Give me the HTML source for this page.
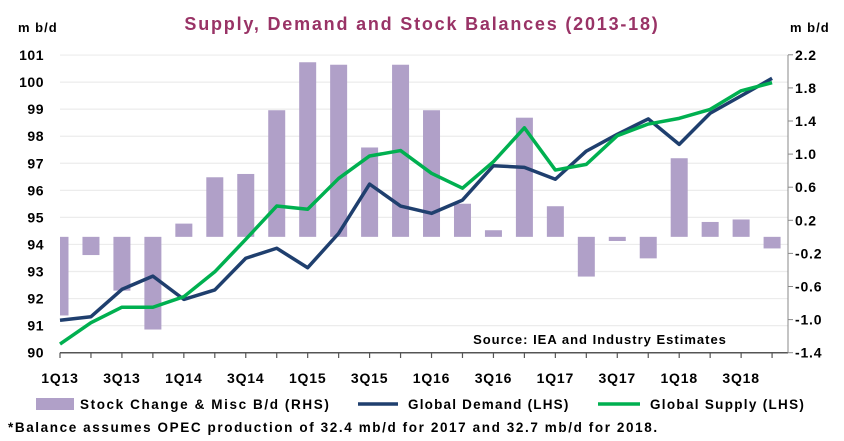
<!DOCTYPE html>
<html><head><meta charset="utf-8"><style>
body{margin:0;background:#fff;}
svg{display:block;font-family:"Liberation Sans",Arial,sans-serif;}
</style></head><body>
<svg id="chart" width="844" height="441">
<text x="422" y="30" text-anchor="middle" font-size="18" font-weight="bold" fill="#993366" letter-spacing="1.8">Supply, Demand and Stock Balances (2013-18)</text>
<text x="18" y="32" font-size="13" font-weight="bold" fill="#000" letter-spacing="1">m b/d</text>
<text x="790" y="32" font-size="13" font-weight="bold" fill="#000" letter-spacing="1">m b/d</text>
<g id="grid"></g><g id="bars"></g><g id="lines"></g><g id="axes"></g>
<text x="600" y="344" text-anchor="middle" font-size="13" font-weight="bold" fill="#000" letter-spacing="1">Source: IEA and Industry Estimates</text>
<g>
<rect x="36" y="398" width="38" height="12" fill="#b0a0c8"/>
<text x="80" y="409" font-size="13.5" font-weight="bold" letter-spacing="1.6">Stock Change &amp; Misc B/d (RHS)</text>
<line x1="358" y1="404" x2="398" y2="404" stroke="#1f3f6e" stroke-width="3.5"/>
<text x="408" y="409" font-size="13.5" font-weight="bold" letter-spacing="1.2">Global Demand (LHS)</text>
<line x1="598" y1="404" x2="640" y2="404" stroke="#00b050" stroke-width="3.5"/>
<text x="650" y="409" font-size="13.5" font-weight="bold" letter-spacing="1.3">Global Supply (LHS)</text>
</g>
<text x="8" y="432" font-size="13.5" font-weight="bold" letter-spacing="1.6">*Balance assumes OPEC production of 32.4 mb/d for 2017 and 32.7 mb/d for 2018.</text>
</svg>
<script>
const categories=["1Q13","2Q13","3Q13","4Q13","1Q14","2Q14","3Q14","4Q14","1Q15","2Q15","3Q15","4Q15","1Q16","2Q16","3Q16","4Q16","1Q17","2Q17","3Q17","4Q17","1Q18","2Q18","3Q18","4Q18"];
const stockChange=[-0.95,-0.22,-0.65,-1.12,0.16,0.72,0.76,1.53,2.11,2.08,1.08,2.08,1.53,0.40,0.08,1.44,0.37,-0.48,-0.05,-0.26,0.95,0.18,0.21,-0.14];
const demand=[91.2,91.33,92.34,92.83,91.97,92.32,93.49,93.86,93.14,94.41,96.23,95.42,95.15,95.64,96.91,96.85,96.41,97.45,98.07,98.64,97.70,98.85,99.49,100.14];
const supply=[90.32,91.11,91.68,91.68,92.07,92.99,94.19,95.42,95.30,96.44,97.27,97.47,96.63,96.08,97.06,98.31,96.75,96.96,98.02,98.45,98.66,98.99,99.68,99.98];
const leftTicks=[90,91,92,93,94,95,96,97,98,99,100,101];
const rightTicks=[-1.4,-1.0,-0.6,-0.2,0.2,0.6,1.0,1.4,1.8,2.2];
const NS="http://www.w3.org/2000/svg";
const x0=60,step=30.96,xEnd=788;
const xS=i=>x0+i*step;
const yL=v=>352.7-(v-90)*27.06;
const yR=v=>352.7-(v+1.4)*82.75;
function mk(tag,attrs,parent){const e=document.createElementNS(NS,tag);for(const k in attrs)e.setAttribute(k,attrs[k]);parent.appendChild(e);return e;}
const grid=document.getElementById('grid'),bars=document.getElementById('bars'),lines=document.getElementById('lines'),axes=document.getElementById('axes');
leftTicks.forEach(v=>{
 if(v>90){const g=mk('line',{x1:x0,x2:xEnd,y1:yL(v),y2:yL(v),stroke:'#ececec','stroke-width':1.2},grid);
 
 }
 const t=mk('text',{x:44,y:yL(v)+5,'text-anchor':'end','font-size':14,'font-weight':'bold','letter-spacing':0.5},axes);t.textContent=v;
 
 
});
rightTicks.forEach(v=>{
 const t=mk('text',{x:795,y:yR(v)+5,'font-size':14,'font-weight':'bold','letter-spacing':0.8},axes);t.textContent=v.toFixed(1);
 
 
 const tk=mk('line',{x1:xEnd,x2:xEnd+5,y1:yR(v),y2:yR(v),stroke:'#888'},axes);
 
 
});
const y0=yR(0);
stockChange.forEach((v,i)=>{
 let xa=xS(i)-8.5,xb=xS(i)+8.5;if(xa<x0)xa=x0;if(xb>xEnd)xb=xEnd;
 const r=mk('rect',{x:xa,width:xb-xa,y:Math.min(y0,yR(v)),height:Math.abs(yR(v)-y0),fill:'#b0a0c8'},bars);
 
 
});
function line(data,color,name){
 const p=mk('polyline',{points:data.map((v,i)=>xS(i)+','+yL(v)).join(' '),fill:'none',stroke:color,'stroke-width':3.5,'stroke-linejoin':'round'},lines);
 
 
}
line(demand,'#1f3f6e','global-demand-line');
line(supply,'#00b050','global-supply-line');
const xa=mk('line',{x1:x0,x2:xEnd,y1:352.7,y2:352.7,stroke:'#555','stroke-width':1.5},axes);


const ra=mk('line',{x1:xEnd,x2:xEnd,y1:55,y2:352.7,stroke:'#888','stroke-width':1},axes);


categories.forEach((c,i)=>{
 const tk=mk('line',{x1:xS(i),x2:xS(i),y1:352.7,y2:358,stroke:'#555','stroke-width':1.2},axes);
 
 
 if(i%2===0){const t=mk('text',{x:xS(i),y:383,'text-anchor':'middle','font-size':14,'font-weight':'bold','letter-spacing':0.8},axes);t.textContent=c;
 
 }
});
</script>
</body></html>
